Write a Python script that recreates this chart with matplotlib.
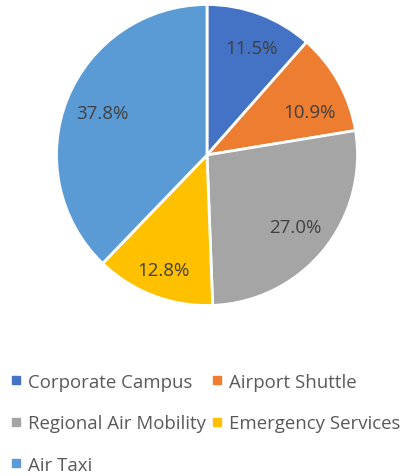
import matplotlib
matplotlib.use("Agg")
import matplotlib.pyplot as plt
import numpy as np
from matplotlib.lines import Line2D

# Segment data
categories = ["Corporate Campus", "Airport Shuttle", "Regional Air Mobility",
              "Emergency Services", "Air Taxi"]
shares = [11.5, 10.9, 27.0, 12.8, 37.8]
colours = ["#4472C4", "#ED7D31", "#A5A5A5", "#FFC000", "#5B9BD5"]

plt.rcParams["font.family"] = ["Open Sans", "DejaVu Sans"]

W, H = 404, 477
fig = plt.figure(figsize=(W / 100, H / 100), dpi=100)
fig.patch.set_facecolor("white")

# pie centre and radius in pixels
cx, cy, r = 207, 156, 152
ax = fig.add_axes([(cx - r) / W, 1 - (cy + r) / H, 2 * r / W, 2 * r / H])
wedges, texts, autotexts = ax.pie(
    shares, colors=colours, startangle=90, counterclock=False,
    autopct="%.1f%%", pctdistance=0.76, radius=1.0,
    wedgeprops=dict(edgecolor="white", linewidth=2))

# label placement tweaks (radial distance, angle nudge in degrees)
label_dist = [0.77, 0.74, 0.76, 0.82, 0.75]
label_nudge = [-2, -6, 0, 0, 0]
for w, t, d, n in zip(wedges, autotexts, label_dist, label_nudge):
    ang = np.deg2rad((w.theta1 + w.theta2) / 2 + n)
    t.set_position((d * np.cos(ang), d * np.sin(ang)))
    t.set_color("#404040")
    t.set_fontsize(13.5)
ax.set_xlim(-1.01, 1.01)
ax.set_ylim(-1.01, 1.01)
ax.set_aspect("equal")
ax.axis("off")

# legend is filled column by column, so reorder to read row by row
order = [0, 2, 4, 1, 3]
handles = [Line2D([], [], marker="s", linestyle="none", markersize=5.5,
                  markerfacecolor=colours[i], markeredgecolor=colours[i])
           for i in order]
labels = [categories[i] for i in order]
fig.legend(handles, labels, ncol=2, loc="upper left",
           bbox_to_anchor=(11 / W, 1 - 374 / H), frameon=False,
           fontsize=13.4, labelcolor="#595959", handlelength=0.5,
           handletextpad=0.4, columnspacing=0.35, labelspacing=1.25,
           borderpad=0, borderaxespad=0)

fig.savefig("out.png", dpi=100, facecolor="white")
